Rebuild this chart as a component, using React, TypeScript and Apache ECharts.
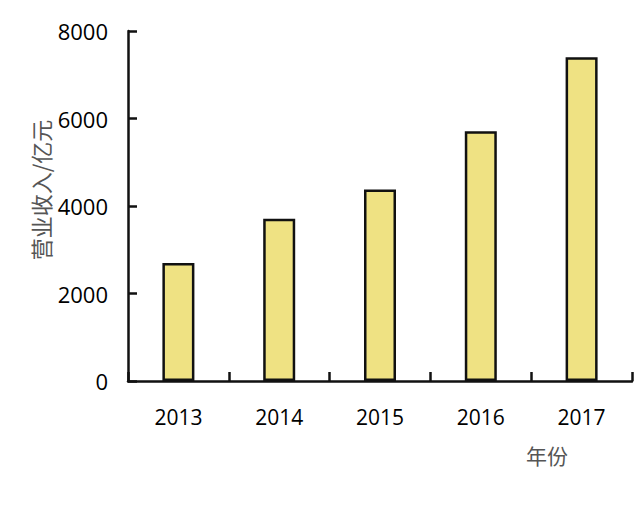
import React, { useEffect, useRef } from "react";
import * as echarts from "echarts";

const years = ["2013", "2014", "2015", "2016", "2017"];
const revenue = [2700, 3710, 4380, 5710, 7400];
const yTicks = [0, 2000, 4000, 6000, 8000];
const yAxisTitle = "营业收入/亿元";
const xAxisTitle = "年份";

export default function App() {
  const ref = useRef<HTMLDivElement>(null);
  useEffect(() => {
    if (!ref.current) return;
    const chart = echarts.init(ref.current, undefined, { renderer: "svg" });
    chart.setOption({
      animation: false,
      backgroundColor: "#ffffff",
      grid: { left: 128, right: 8, top: 31, bottom: 135, containLabel: false },
      xAxis: {
        type: "category",
        data: years,
        boundaryGap: true,
        axisLine: { lineStyle: { color: "#111", width: 2.5 } },
        axisTick: { show: true, inside: true, length: 9, lineStyle: { color: "#111", width: 2.5 } },
        axisLabel: {
          color: "#000",
          fontSize: 21,
          fontFamily: "Open Sans",
          margin: 25,
        },
      },
      yAxis: {
        type: "value",
        min: yTicks[0],
        max: yTicks[yTicks.length - 1],
        interval: 2000,
        axisLine: { show: true, lineStyle: { color: "#111", width: 2.5 } },
        axisTick: { show: true, inside: true, length: 9, lineStyle: { color: "#111", width: 2.5 } },
        splitLine: { show: false },
        axisLabel: {
          color: "#000",
          fontSize: 22,
          fontFamily: "Open Sans",
          margin: 20,
          formatter: (v: number) => String(v),
        },
      },
      graphic: [
        {
          type: "text",
          x: 40,
          y: 190,
          rotation: Math.PI / 2,
          style: {
            text: yAxisTitle,
            fill: "#555",
            fontSize: 22,
            fontFamily: "Noto Sans CJK SC",
            align: "center",
            verticalAlign: "middle",
          },
        },
        {
          type: "text",
          x: 547,
          y: 455,
          style: {
            text: xAxisTitle,
            fill: "#555",
            fontSize: 21,
            fontFamily: "Noto Sans CJK SC",
            align: "center",
            verticalAlign: "middle",
          },
        },
      ],
      series: [
        {
          type: "bar",
          data: revenue,
          barWidth: 32,
          itemStyle: { color: "#EFE283", borderColor: "#111", borderWidth: 2.5 },
        },
      ],
    });
    return () => chart.dispose();
  }, []);
  return (
    <div
      ref={ref}
      style={{ position: "fixed", left: 0, top: 0, width: 640, height: 516 }}
    />
  );
}
